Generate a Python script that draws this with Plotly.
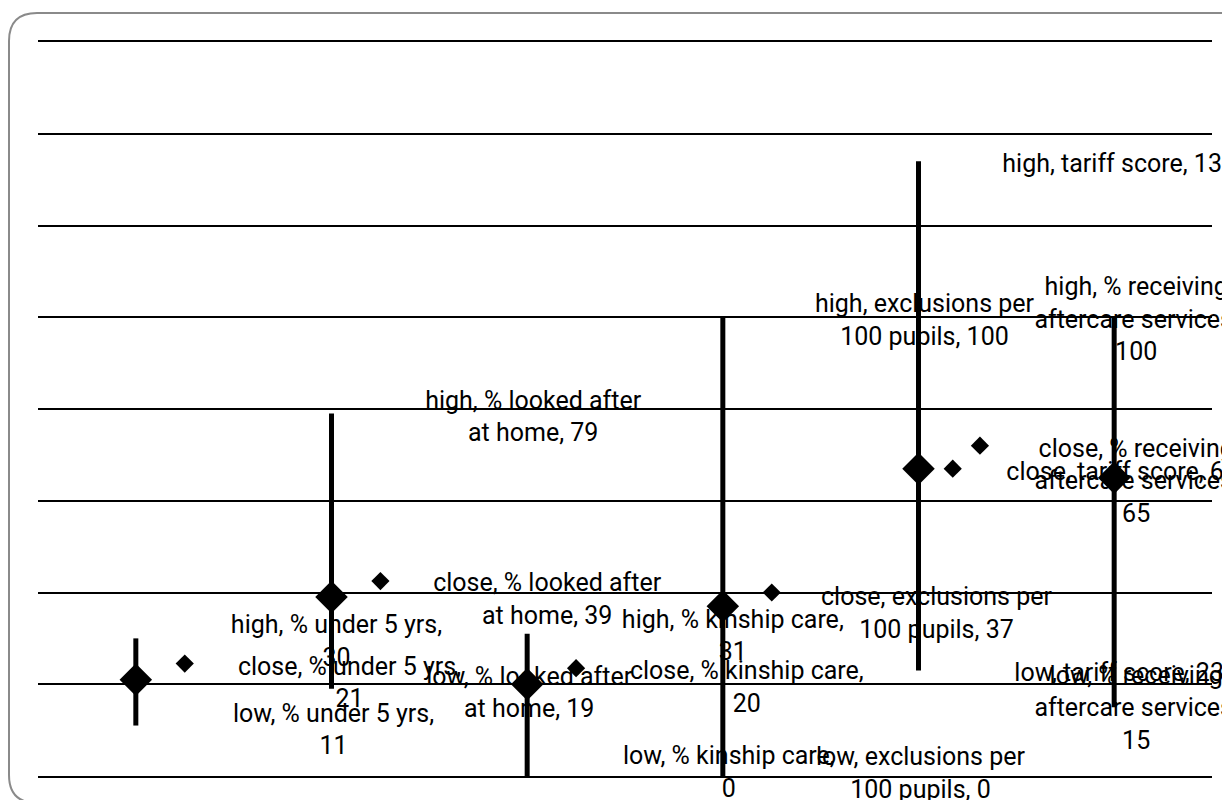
import plotly.graph_objects as go

# ---------------- data ----------------
categories = ["% under 5 yrs", "% looked after at home", "% kinship care",
              "exclusions per 100 pupils", "tariff score",
              "% receiving aftercare services"]
high = [30, 79, 31, 100, 134, 100]
low = [11, 19, 0, 0, 23, 15]
close = [21, 39, 20, 37, 67, 65]

# extra small diamond markers (x in category units, y in value units)
extra_x = [0.25, 1.25, 2.25, 3.25, 4.175, 4.314]
extra_y = [24.5, 42.5, 23.5, 40, 67, 72]

# data label text templates (line breaks as in the picture)
label_fmt = ["{s}, % under 5 yrs,<br>{v}",
             "{s}, % looked after<br>at home, {v}",
             "{s}, % kinship care,<br>{v}",
             "{s}, exclusions per<br>100 pupils, {v}",
             "{s}, tariff score, {v}",
             "{s}, % receiving<br>aftercare services,<br>{v}"]

y_ticks = [0, 20, 40, 60, 80, 100, 120, 140, 160]

# ---------------- layout / style ----------------
OFF = 8                      # page body margin of the html page
W, H = 1230 - OFF, 800 - OFF
PL, PT, PR, PB = 38, 42, 1212, 776   # plot area in window pixels
ML, MT = PL - OFF, PT - OFF
MR = W - (PR - OFF)
MB = H - (PB - OFF)
pw, ph = PR - PL, PB - PT
n = len(categories)
cat_px = pw / n
val_px = ph / (y_ticks[-1] - y_ticks[0])

# pixel nudges of the data labels (style, not data)
label_dx = {"high": [5, 6, 10, 6, 5, 22],
            "close": [18, 20, 24, 18, 8, 22],
            "low": [2, 2, 6, 2, 5, 22]}
label_dy = {"high": [5, 5, 4, 5, 4, 4],
            "close": [5, 4, 5, 9, 5, 5],
            "low": [6, 6, -2, -1, 4, 3]}

FONT = dict(family="Roboto", size=25, color="black")

fig = go.Figure()

# data labels (drawn first so that the marks lie over them)
for stat, vals in (("high", high), ("close", close), ("low", low)):
    xs = [min(i + 1, n - 1) + label_dx[stat][i] / cat_px for i in range(n)]
    ys = [vals[i] - label_dy[stat][i] / val_px for i in range(n)]
    texts = [label_fmt[i].format(s=stat, v=vals[i]) for i in range(n)]
    fig.add_trace(go.Scatter(
        x=xs, y=ys, mode="text", text=texts,
        textposition="middle center", textfont=FONT,
        cliponaxis=False, hoverinfo="skip", showlegend=False))

# high-low lines with close diamonds
fig.add_trace(go.Scatter(
    x=list(range(n)), y=close, mode="markers",
    marker=dict(symbol="diamond", size=25, color="black"),
    error_y=dict(type="data", symmetric=False,
                 array=[h - c for h, c in zip(high, close)],
                 arrayminus=[c - l for c, l in zip(close, low)],
                 thickness=5, width=0, color="black"),
    cliponaxis=False, showlegend=False, hoverinfo="skip"))

# small diamonds
fig.add_trace(go.Scatter(
    x=extra_x, y=extra_y, mode="markers",
    marker=dict(symbol="diamond", size=14, color="black"),
    cliponaxis=False, showlegend=False, hoverinfo="skip"))


def to_paper(px, py):
    """window pixel -> paper coordinates"""
    return (px - PL) / pw, (PB - py) / ph


# rounded chart-area border (partly outside the window, as in the picture)
L, T, R, B, r = 9, 13, 1252, 803, 28
pts = [("M", [(L, T + r)]), ("Q", [(L, T), (L + r, T)]), ("L", [(R - r, T)]),
       ("Q", [(R, T), (R, T + r)]), ("L", [(R, B - r)]),
       ("Q", [(R, B), (R - r, B)]), ("L", [(L + r, B)]),
       ("Q", [(L, B), (L, B - r)])]
path = ""
for cmd, plist in pts:
    path += cmd + " " + " ".join("%.5f,%.5f" % to_paper(*p) for p in plist) + " "
path += "Z"

fig.add_shape(type="path", path=path, xref="paper", yref="paper",
              line=dict(color="#8a8a8a", width=2), fillcolor="rgba(0,0,0,0)",
              layer="below")

fig.update_layout(
    width=W, height=H,
    margin=dict(l=ML, r=MR, t=MT, b=MB, pad=0),
    paper_bgcolor="white", plot_bgcolor="white",
    showlegend=False,
    xaxis=dict(range=[-0.5, n - 0.5], showgrid=False, zeroline=False,
               showticklabels=False, ticks="", showline=True, mirror=True,
               linecolor="black", linewidth=1.5, fixedrange=True),
    yaxis=dict(range=[y_ticks[0], y_ticks[-1]], tickvals=y_ticks[1:-1],
               showgrid=True, gridcolor="black", gridwidth=1.5,
               zeroline=False, showticklabels=False, ticks="",
               showline=False, fixedrange=True),
)

fig.write_html("out.html")
